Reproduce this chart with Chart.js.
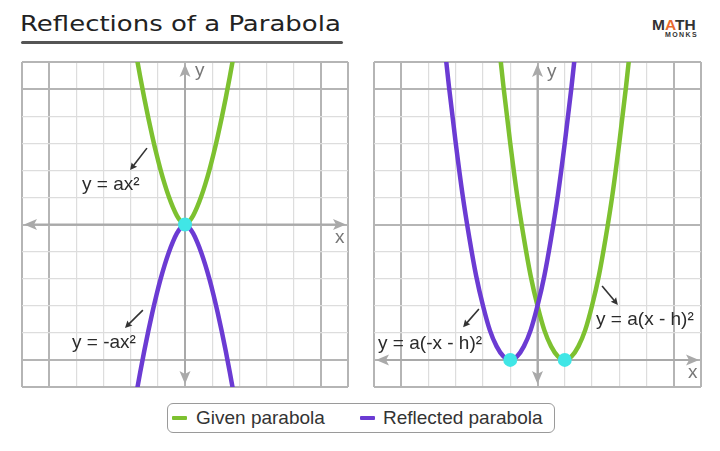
<!DOCTYPE html>
<html>
<head>
<meta charset="utf-8">
<script src="https://cdn.jsdelivr.net/npm/chart.js@4.4.1/dist/chart.umd.min.js"></script>
<style>
html,body{margin:0;padding:0;background:#fff;width:720px;height:451px;overflow:hidden;}
body{position:relative;font-family:"Liberation Sans",Arial,sans-serif;}
.title{position:absolute;left:20px;top:13px;font-family:"DejaVu Sans",sans-serif;font-size:22px;line-height:22px;color:#222;transform-origin:0 0;transform:scaleX(1.18);white-space:nowrap;}
.underline{position:absolute;left:21px;top:41px;width:322px;height:3px;background:#555;border-radius:2px;}
.logo1{position:absolute;left:652px;top:17px;font-size:15.5px;line-height:15.5px;font-weight:bold;color:#333;white-space:nowrap;}
.logo1 span{color:#e96a2c;}
.logo2{position:absolute;left:665px;top:31px;font-size:7px;line-height:7px;font-weight:bold;color:#333;letter-spacing:1.4px;white-space:nowrap;}
.panel{position:absolute;}
.legend{position:absolute;left:167px;top:403px;width:388px;height:30px;box-sizing:border-box;border:1px solid #9a9a9a;border-radius:6px;font-size:19px;color:#333;}
.legend .sw{position:absolute;top:12px;width:15px;height:4px;border-radius:1px;}
.legend .tx{position:absolute;top:0;line-height:28px;white-space:nowrap;}
</style>
</head>
<body>
<div class="title">Reflections of a Parabola</div>
<div class="underline"></div>
<div class="logo1">M<span>A</span>TH</div>
<div class="logo2">MONKS</div>

<div class="panel" style="left:12px;top:52px;width:346px;height:345px;"><canvas id="c1"></canvas></div>
<div class="panel" style="left:364px;top:52px;width:347px;height:345px;"><canvas id="c2"></canvas></div>

<div class="legend">
  <div class="sw" style="left:4px;background:#7dc130;"></div>
  <div class="tx" style="left:28px;">Given parabola</div>
  <div class="sw" style="left:192px;background:#6b3bd3;"></div>
  <div class="tx" style="left:215px;">Reflected parabola</div>
</div>

<script>
// ---------- data ----------
// Left panel: y = ax^2 (given) and y = -ax^2 (reflected)
const leftGivenX = [-1.8,-1.65,-1.5,-1.35,-1.2,-1.05,-0.9,-0.75,-0.6,-0.45,-0.3,-0.15,0,0.15,0.3,0.45,0.6,0.75,0.9,1.05,1.2,1.35,1.5,1.65,1.8];
const leftGivenY = [6.29,5.46,4.67,3.93,3.24,2.6,2.02,1.5,1.04,0.65,0.33,0.11,0,0.11,0.33,0.65,1.04,1.5,2.02,2.6,3.24,3.93,4.67,5.46,6.29];
const leftReflX  = [-1.8,-1.65,-1.5,-1.35,-1.2,-1.05,-0.9,-0.75,-0.6,-0.45,-0.3,-0.15,0,0.15,0.3,0.45,0.6,0.75,0.9,1.05,1.2,1.35,1.5,1.65,1.8];
const leftReflY  = [-6.29,-5.46,-4.67,-3.93,-3.24,-2.6,-2.02,-1.5,-1.04,-0.65,-0.33,-0.11,0,-0.11,-0.33,-0.65,-1.04,-1.5,-2.02,-2.6,-3.24,-3.93,-4.67,-5.46,-6.29];
const leftVertexX = [0];
const leftVertexY = [0];

// Right panel: y = a(x - h)^2 (given) and y = a(-x - h)^2 (reflected)
const rightGivenX = [-1.4,-1.25,-1,-0.75,-0.5,-0.25,0,0.25,0.5,0.75,1,1.25,1.5,1.75,2,2.25,2.5,2.75,3,3.25,3.4];
const rightGivenY = [11.5,10.1,8,6.1,4.5,3.1,2,1.1,0.5,0.13,0,0.13,0.5,1.1,2,3.1,4.5,6.1,8,10.1,11.5];
const rightReflX  = [-3.4,-3.25,-3,-2.75,-2.5,-2.25,-2,-1.75,-1.5,-1.25,-1,-0.75,-0.5,-0.25,0,0.25,0.5,0.75,1,1.25,1.4];
const rightReflY  = [11.5,10.1,8,6.1,4.5,3.1,2,1.1,0.5,0.13,0,0.13,0.5,1.1,2,3.1,4.5,6.1,8,10.1,11.5];
const rightVertexX = [-1,1];
const rightVertexY = [0,0];

// Axis ranges / grid
const leftXRange = [-6,6];
const leftYRange = [-6,6];
const rightXRange = [-6,6];
const rightYRange = [-1,11];
const majorEvery = 5;

// Labels
const seriesNames = ['Given parabola','Reflected parabola'];
const leftLabels = [
  {t:'y = ax\u00B2', x:-3.79, y:1.27},
  {t:'y = -ax\u00B2', x:-4.16, y:-4.57}
];
const leftPointers = [
  {x1:-1.40, y1:2.82, x2:-2.02, y2:2.01},
  {x1:-1.55, y1:-3.16, x2:-2.21, y2:-3.82}
];
const rightLabels = [
  {t:'y = a(-x - h)\u00B2', x:-5.85, y:0.40},
  {t:'y = a(x - h)\u00B2', x:2.15, y:1.29}
];
const rightPointers = [
  {x1:-2.15, y1:1.88, x2:-2.73, y2:1.21},
  {x1:2.37, y1:2.73, x2:2.95, y2:2.03}
];
const leftAxisNames = [{t:'y', x:0.37, y:5.48},{t:'x', x:5.52, y:-0.68}];
const rightAxisNames = [{t:'y', x:0.35, y:10.45},{t:'x', x:5.52, y:-0.67}];

// ---------- styling ----------
const GREEN = '#7dc130', PURPLE = '#6b3bd3', CYAN = '#40e6e6';
const GRID_MINOR = '#dddddd', GRID_MAJOR = '#b5b5b5', AXIS = '#a9a9a9';

function pts(xs, ys){ return xs.map((x,i)=>({x:x, y:ys[i]})); }

function gridFor(range){
  return {
    color: c => {
      const v = c.tick ? c.tick.value : 0;
      if (v === range[0] || v === range[1]) return GRID_MAJOR;
      return (v % majorEvery === 0) ? GRID_MAJOR : GRID_MINOR;
    },
    lineWidth: c => {
      const v = c.tick ? c.tick.value : 0;
      if (v === range[0] || v === range[1]) return 2;
      return (v % majorEvery === 0) ? 2 : 1.2;
    },
    drawTicks: false
  };
}

function arrowHead(ctx, tx, ty, dx, dy, L, W, notch){
  const nx = -dy, ny = dx;
  ctx.beginPath();
  ctx.moveTo(tx, ty);
  ctx.lineTo(tx - dx*L + nx*W, ty - dy*L + ny*W);
  ctx.lineTo(tx - dx*(L-notch), ty - dy*(L-notch));
  ctx.lineTo(tx - dx*L - nx*W, ty - dy*L - ny*W);
  ctx.closePath();
  ctx.fill();
}

function decor(name, labels, pointers, axisNames){
  return {
    id: 'decor' + name,
    beforeDatasetsDraw(chart){
      const {ctx, chartArea:a, scales} = chart;
      const x0 = scales.x.getPixelForValue(0), y0 = scales.y.getPixelForValue(0);
      ctx.save();
      ctx.strokeStyle = AXIS; ctx.fillStyle = AXIS; ctx.lineWidth = 2;
      ctx.beginPath();
      ctx.moveTo(a.left + 6, y0); ctx.lineTo(a.right - 6, y0);
      ctx.moveTo(x0, a.top + 6); ctx.lineTo(x0, a.bottom - 6);
      ctx.stroke();
      arrowHead(ctx, a.left + 2, y0, -1, 0, 13, 5.5, 3);
      arrowHead(ctx, a.right - 2, y0, 1, 0, 13, 5.5, 3);
      arrowHead(ctx, x0, a.top + 2, 0, -1, 13, 5.5, 3);
      arrowHead(ctx, x0, a.bottom - 3, 0, 1, 13, 5.5, 3);
      ctx.font = '19px "Liberation Sans", Arial, sans-serif';
      ctx.fillStyle = '#777';
      ctx.textBaseline = 'alphabetic';
      axisNames.forEach(n => {
        ctx.fillText(n.t, scales.x.getPixelForValue(n.x), scales.y.getPixelForValue(n.y));
      });
      ctx.restore();
    },
    afterDatasetsDraw(chart){
      const {ctx, scales} = chart;
      ctx.save();
      ctx.strokeStyle = '#333'; ctx.fillStyle = '#333'; ctx.lineWidth = 1.6;
      pointers.forEach(p => {
        const x1 = scales.x.getPixelForValue(p.x1), y1 = scales.y.getPixelForValue(p.y1);
        const x2 = scales.x.getPixelForValue(p.x2), y2 = scales.y.getPixelForValue(p.y2);
        const len = Math.hypot(x2-x1, y2-y1), dx = (x2-x1)/len, dy = (y2-y1)/len;
        ctx.beginPath(); ctx.moveTo(x1, y1); ctx.lineTo(x2 - dx*5, y2 - dy*5); ctx.stroke();
        arrowHead(ctx, x2, y2, dx, dy, 7, 3.5, 1);
      });
      ctx.font = '19px "Liberation Sans", Arial, sans-serif';
      ctx.fillStyle = '#2b2b2b';
      ctx.textBaseline = 'alphabetic';
      labels.forEach(l => {
        ctx.fillText(l.t, scales.x.getPixelForValue(l.x), scales.y.getPixelForValue(l.y));
      });
      ctx.restore();
    }
  };
}

function makeChart(id, name, gx, gy, rx, ry, vx, vy, xr, yr, labels, pointers, axisNames){
  new Chart(document.getElementById(id), {
    type: 'scatter',
    data: {
      datasets: [
        {label:'Vertex', data: pts(vx, vy), pointRadius: 7, pointHoverRadius: 7,
         backgroundColor: CYAN, borderWidth: 0, showLine: false},
        {label: seriesNames[1], data: pts(rx, ry), showLine: true, borderColor: PURPLE,
         borderWidth: 4.5, pointRadius: 0, cubicInterpolationMode: 'monotone', fill: false},
        {label: seriesNames[0], data: pts(gx, gy), showLine: true, borderColor: GREEN,
         borderWidth: 4.5, pointRadius: 0, cubicInterpolationMode: 'monotone', fill: false}
      ]
    },
    options: {
      responsive: true, maintainAspectRatio: false, animation: false,
      layout: {padding: 10},
      events: [],
      plugins: {legend: {display: false}, tooltip: {enabled: false}},
      scales: {
        x: {type:'linear', min: xr[0], max: xr[1], ticks:{display:false, stepSize:1},
            grid: gridFor(xr), border:{display:false}},
        y: {type:'linear', min: yr[0], max: yr[1], ticks:{display:false, stepSize:1},
            grid: gridFor(yr), border:{display:false}}
      }
    },
    plugins: [decor(name, labels, pointers, axisNames)]
  });
}

makeChart('c1','L', leftGivenX, leftGivenY, leftReflX, leftReflY, leftVertexX, leftVertexY,
          leftXRange, leftYRange, leftLabels, leftPointers, leftAxisNames);
makeChart('c2','R', rightGivenX, rightGivenY, rightReflX, rightReflY, rightVertexX, rightVertexY,
          rightXRange, rightYRange, rightLabels, rightPointers, rightAxisNames);
</script>
</body>
</html>
